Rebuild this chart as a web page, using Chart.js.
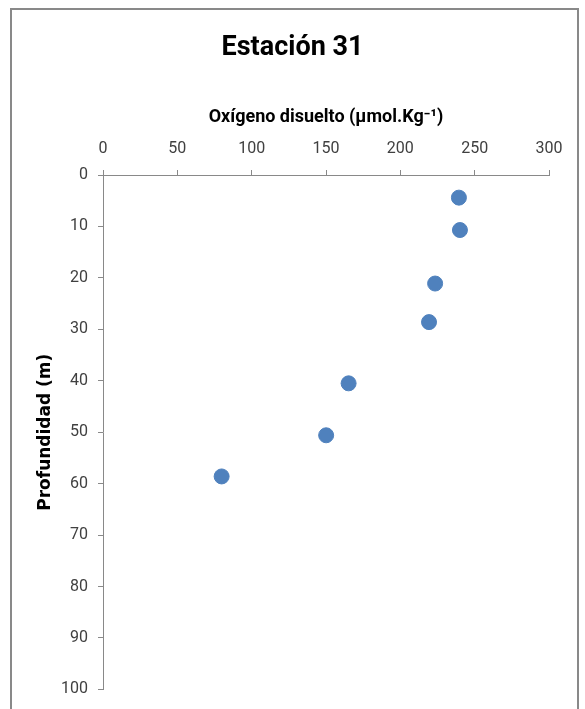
<!DOCTYPE html>
<html>
<head>
<meta charset="utf-8">
<script src="https://cdn.jsdelivr.net/npm/chart.js@4"></script>
<style>
  body { margin: 0; background: #fff; }
  #frame { position: absolute; left: 10px; top: 8px; width: 565px; height: 800px; border: 2px solid #898989; }
  #chart { position: absolute; left: 0; top: 0; }
</style>
</head>
<body>
<div id="frame"></div>
<canvas id="chart" width="585" height="709"></canvas>
<script>
// Estación 31 - oxígeno disuelto vs profundidad
const oxygen = [239.4, 240.1, 223.4, 219.3, 165.2, 150.1, 79.8];
const depth = [4.4, 10.7, 21.1, 28.6, 40.5, 50.6, 58.6];
const xTicks = [0, 50, 100, 150, 200, 250, 300];
const yTicks = [0, 10, 20, 30, 40, 50, 60, 70, 80, 90, 100];

const points = oxygen.map((v, i) => ({ x: v, y: depth[i] }));
const axisGray = '#898989';
const tickColor = '#404040';

const ctx = document.getElementById('chart').getContext('2d');
const myChart = new Chart(ctx, {
    type: 'scatter',
    data: {
        datasets: [{
            label: 'Estación 31',
            data: points,
            backgroundColor: '#4F81BD',
            borderColor: '#4F81BD',
            pointRadius: 7.5,
            pointHoverRadius: 7.5
        }]
    },
    options: {
        responsive: false,
        animation: false,
        layout: { padding: { left: 0, top: 0, right: 0, bottom: 17 } },
        plugins: {
            legend: { display: false },
            tooltip: { enabled: false },
            title: {
                display: true,
                text: 'Estación 31',
                color: '#000',
                font: { family: 'Roboto', size: 27, weight: 'bold', lineHeight: 1.2 },
                padding: { top: 32, bottom: 0 }
            }
        },
        scales: {
            x: {
                type: 'linear',
                position: 'top',
                min: 0,
                max: 300,
                afterBuildTicks: s => { s.ticks = xTicks.map(v => ({ value: v })); },
                afterFit: s => { s.height = 110.6; },
                title: {
                    display: true,
                    text: 'Oxígeno disuelto (µmol.Kg⁻¹)',
                    color: '#000',
                    font: { family: 'Roboto', size: 18, weight: 'bold', lineHeight: 1.2 },
                    padding: { top: 42, bottom: 0 }
                },
                ticks: { color: tickColor, font: { family: 'Roboto', size: 16 }, padding: 11 },
                grid: { display: true, drawOnChartArea: false, drawTicks: true, tickLength: 5, color: axisGray },
                border: { display: true, color: axisGray, width: 1 }
            },
            y: {
                type: 'linear',
                position: 'left',
                reverse: true,
                min: 0,
                max: 100,
                afterBuildTicks: s => { s.ticks = yTicks.map(v => ({ value: v })); },
                afterFit: s => { s.width = 103; },
                title: {
                    display: true,
                    text: 'Profundidad (m)',
                    color: '#000',
                    font: { family: 'DejaVu Sans', size: 17, weight: 'bold', lineHeight: 1.2 },
                    padding: { top: 35, bottom: 0 }
                },
                ticks: { color: tickColor, font: { family: 'Roboto', size: 16 }, padding: 10 },
                grid: { display: true, drawOnChartArea: false, drawTicks: true, tickLength: 5, color: axisGray },
                border: { display: true, color: axisGray, width: 1 }
            },
            spacer: {
                type: 'linear',
                position: 'right',
                display: true,
                afterFit: s => { s.width = 36; },
                ticks: { display: false },
                grid: { display: false },
                border: { display: false }
            }
        }
    }
});
</script>
</body>
</html>
